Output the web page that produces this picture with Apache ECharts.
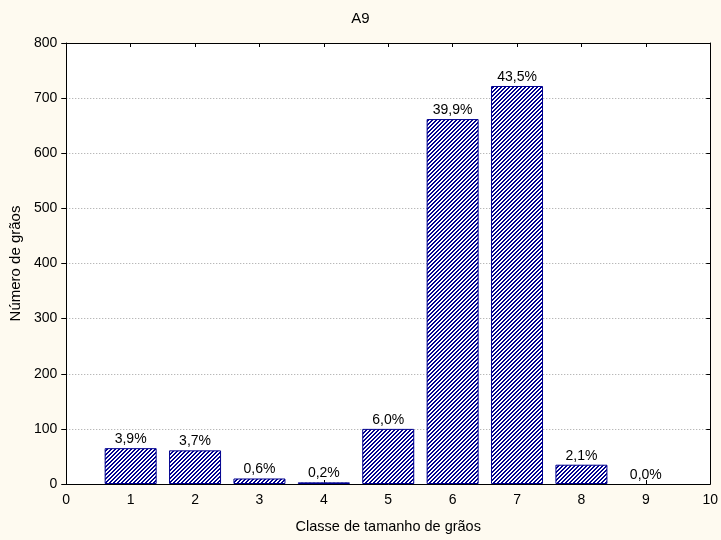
<!DOCTYPE html>
<html>
<head>
<meta charset="utf-8">
<script src="https://cdn.jsdelivr.net/npm/echarts@6/dist/echarts.min.js"></script>
<style>
html,body{margin:0;padding:0;background:#FEFAF0;}
#c{width:721px;height:540px;}
</style>
</head>
<body>
<div id="c"></div>
<script>
var classes = [1, 2, 3, 4, 5, 6, 7, 8, 9];
var counts = [65, 61, 10, 3, 100, 662, 722, 35, 0];
var pctLabels = ['3,9%', '3,7%', '0,6%', '0,2%', '6,0%', '39,9%', '43,5%', '2,1%', '0,0%'];
var yTicks = [0, 100, 200, 300, 400, 500, 600, 700, 800];

var FONT = '"Liberation Sans", Arial, sans-serif';
var NAVY = '#000090';

// hatch pattern ("/" diagonal, period 4 px)
var pc = document.createElement('canvas');
pc.width = 4; pc.height = 4;
var g = pc.getContext('2d');
g.fillStyle = '#ffffff';
g.fillRect(0, 0, 4, 4);
g.fillStyle = NAVY;
for (var i = 0; i < 4; i++) {
  g.fillRect(i, 3 - i, 1, 1);
  g.fillRect((i + 1) % 4, 3 - i, 1, 1);
}

var chart = echarts.init(document.getElementById('c'), null, {renderer: 'canvas'});
var option = {
  backgroundColor: '#FEFAF0',
  animation: false,
  title: {
    text: 'A9', left: 'center', top: 6,
    textStyle: {fontFamily: FONT, fontSize: 15, fontWeight: 'normal', color: '#000'}
  },
  grid: {left: 65, right: 10, top: 43, bottom: 56, backgroundColor: '#ffffff', show: true, borderWidth: 0},
  xAxis: [{
    type: 'value', min: 0, max: 10, interval: 1, position: 'bottom',
    name: 'Classe de tamanho de grãos', nameLocation: 'middle', nameGap: 35,
    nameTextStyle: {fontFamily: FONT, fontSize: 14.5, color: '#000'},
    axisLine: {show: true, onZero: false, lineStyle: {color: '#000', width: 1}},
    axisTick: {show: true, inside: true, length: 4, lineStyle: {color: '#000'}},
    axisLabel: {fontFamily: FONT, fontSize: 14, color: '#000', margin: 9},
    splitLine: {show: false}
  }, {
    type: 'value', min: 0, max: 10, interval: 1, position: 'top',
    axisLine: {show: true, onZero: false, lineStyle: {color: '#000', width: 1}},
    axisTick: {show: true, inside: true, length: 4, lineStyle: {color: '#000'}},
    axisLabel: {show: false}, splitLine: {show: false}
  }],
  yAxis: [{
    type: 'value', min: 0, max: 800, interval: 100, position: 'left',
    name: 'Número de grãos', nameLocation: 'middle', nameGap: 40,
    nameTextStyle: {fontFamily: FONT, fontSize: 15, color: '#000'},
    axisLine: {show: true, onZero: false, lineStyle: {color: '#000', width: 1}},
    axisTick: {show: true, inside: false, length: 5, lineStyle: {color: '#000'}},
    axisLabel: {fontFamily: FONT, fontSize: 14, color: '#000', margin: 9,
      formatter: function (v) { return yTicks.indexOf(v) >= 0 ? String(v) : ''; }},
    splitLine: {show: true, lineStyle: {color: '#a0a0a0', type: [1, 2], width: 1}}
  }, {
    type: 'value', min: 0, max: 800, interval: 100, position: 'right',
    axisLine: {show: true, onZero: false, lineStyle: {color: '#000', width: 1}},
    axisTick: {show: true, inside: true, length: 4, lineStyle: {color: '#000'}},
    axisLabel: {show: false}, splitLine: {show: false}
  }],
  series: [{
    type: 'bar',
    xAxisIndex: 0, yAxisIndex: 0,
    barWidth: 52,
    data: classes.map(function (c, i) {
      var item = {value: [c, counts[i]]};
      if (counts[i] === 0) item.itemStyle = {borderWidth: 0, color: 'rgba(0,0,0,0)'};
      return item;
    }),
    itemStyle: {
      color: {image: pc, repeat: 'repeat'},
      borderColor: NAVY, borderWidth: 1
    },
    label: {
      show: true, position: 'top', distance: 2,
      fontFamily: FONT, fontSize: 14, color: '#000',
      formatter: function (p) { return pctLabels[p.dataIndex]; }
    }
  }]
};
chart.setOption(option);
</script>
</body>
</html>
